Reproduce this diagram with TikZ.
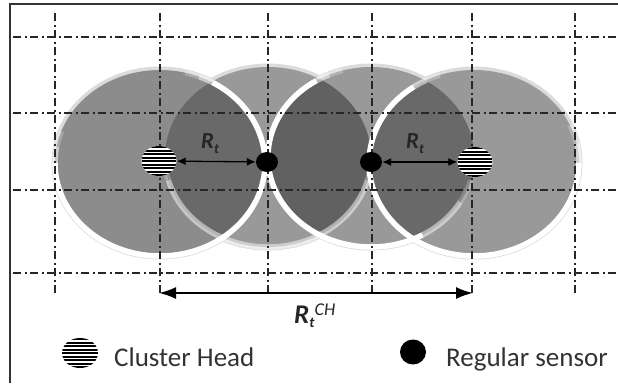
\documentclass[tikz,border=0pt]{standalone}
\usepackage{fontspec}
\setmainfont{Carlito}
\usetikzlibrary{shapes.geometric,arrows.meta}
\definecolor{baseA}{gray}{0.55}
\definecolor{baseB}{gray}{0.60}
\definecolor{lensC}{gray}{0.41}
\definecolor{lensM}{gray}{0.38}
\definecolor{gridc}{gray}{0.15}
\definecolor{halo}{gray}{0.86}
\definecolor{txt}{gray}{0.2}
\newcommand\myringarc[6]{\draw[ringw, opacity=#6] ([shift={(#4:#2pt and #3pt)}]#1) arc[start angle=#4, end angle=#5, x radius=#2pt, y radius=#3pt];}
\begin{document}
\begin{tikzpicture}[x=1pt,y=-1pt,
  gridline/.style={draw=gridc, line width=1.3pt, dash pattern=on 8pt off 3.5pt on 2pt off 3.5pt},
  chnode/.style={ellipse, minimum width=35pt, minimum height=30pt, inner sep=0pt, fill=white,
    path picture={\foreach \k in {-4,...,4}{\fill[black] ([yshift=\k*3.5pt-1pt]path picture bounding box.west) rectangle ([yshift=\k*3.5pt+1pt]path picture bounding box.east);}}},
  sensor/.style={ellipse, fill=black, minimum width=22pt, minimum height=20pt, inner sep=0pt},
  ringw/.style={draw=white, line width=5.5pt},
  haloline/.style={draw=halo, line width=7pt},
  smallarr/.style={{Latex[length=9pt,width=8pt]}-{Latex[length=9pt,width=8pt]}, line width=1.3pt},
  bigarr/.style={{Latex[length=17pt,width=12pt]}-{Latex[length=17pt,width=12pt]}, line width=2pt},
  lab/.style={anchor=base west, inner sep=0pt, text=black!85},
  legtext/.style={anchor=base west, inner sep=0pt, text=txt, font=\fontsize{27}{30}\selectfont}
]
\useasboundingbox (0,0) rectangle (618,383);
\fill[white] (0,0) rectangle (618,383);

% circle centres
\coordinate (c1) at (160,163);
\coordinate (c2) at (268,157);
\coordinate (c3) at (371,157);
\coordinate (c4) at (474,163);

% halos
\path[haloline] (c2) ellipse[x radius=103pt, y radius=90pt];
\path[haloline] (c3) ellipse[x radius=103pt, y radius=90pt];
\path[haloline] (c1) ellipse[x radius=105pt, y radius=93pt];
\path[haloline] (c4) ellipse[x radius=105pt, y radius=93pt];

% base fills
\fill[baseB] (c2) ellipse[x radius=103pt, y radius=90pt];
\fill[baseB] (c3) ellipse[x radius=103pt, y radius=90pt];
\fill[baseA] (c1) ellipse[x radius=105pt, y radius=93pt];
\fill[baseB] (c4) ellipse[x radius=105pt, y radius=93pt];

% lenses
\begin{scope}
  \clip (c1) ellipse[x radius=105pt, y radius=93pt];
  \fill[lensC] (c2) ellipse[x radius=103pt, y radius=90pt];
\end{scope}
\begin{scope}
  \clip (c2) ellipse[x radius=103pt, y radius=90pt];
  \fill[lensM] (c3) ellipse[x radius=103pt, y radius=90pt];
\end{scope}
\begin{scope}
  \clip (c4) ellipse[x radius=105pt, y radius=93pt];
  \fill[lensC] (c3) ellipse[x radius=103pt, y radius=90pt];
\end{scope}

% rings (circle 2, faint)
\myringarc{c2}{103}{90}{195}{345}{0.5}
\myringarc{c2}{103}{90}{183}{195}{0.25}
\myringarc{c2}{103}{90}{345}{357}{0.25}
% circle 3
\myringarc{c3}{103}{90}{122}{300}{1}
\myringarc{c3}{103}{90}{114}{122}{0.55}
\myringarc{c3}{103}{90}{106}{114}{0.25}
\myringarc{c3}{103}{90}{300}{330}{0.5}
\myringarc{c3}{103}{90}{330}{345}{0.2}
% circle 1
\myringarc{c1}{105}{93}{180}{420}{1}
\myringarc{c1}{105}{93}{170}{180}{0.55}
\myringarc{c1}{105}{93}{160}{170}{0.25}
\myringarc{c1}{105}{93}{420}{428}{0.55}
\myringarc{c1}{105}{93}{428}{436}{0.25}
% circle 4
\myringarc{c4}{105}{93}{125}{360}{1}
\myringarc{c4}{105}{93}{117}{125}{0.55}
\myringarc{c4}{105}{93}{109}{117}{0.25}
\myringarc{c4}{105}{93}{360}{372}{0.55}
\myringarc{c4}{105}{93}{372}{384}{0.25}

% grid
\foreach \gy in {37,113,190,273}{
  \draw[gridline] (13,\gy) -- (618,\gy);
}
\foreach \gx/\ge in {55/295,160/295,268/293,372/293,472/295,575/295}{
  \draw[gridline] (\gx,13) -- (\gx,\ge);
}

% frame
\coordinate (f1) at (10,383);
\coordinate (f2) at (10,4);
\coordinate (f3) at (618,4);
\draw[line width=1.5pt, black!80] (f1) -- (f2) -- (f3);

% nodes
\node[chnode] (ch1) at (159,161) {};
\node[chnode] (ch2) at (475,162) {};
\node[sensor] (s1) at (267,162) {};
\node[sensor] (s2) at (371,162) {};

% arrows
\draw[smallarr] (ch1) -- (s1);
\draw[smallarr] (s2) -- (ch2);
\coordinate (a1) at (159,293);
\coordinate (a2) at (473,293);
\draw[bigarr] (a1) -- (a2);

% labels
\node[lab] (rt1) at (201,148) {\fontsize{23}{26}\selectfont\textbf{\textit{R}}\raisebox{-5pt}{\fontsize{14}{14}\selectfont\textbf{\textit{t}}}};
\node[lab] (rt2) at (406,148) {\fontsize{23}{26}\selectfont\textbf{\textit{R}}\raisebox{-5pt}{\fontsize{14}{14}\selectfont\textbf{\textit{t}}}};
\node[lab] (rch) at (294,323) {\fontsize{27}{30}\selectfont\textbf{\textit{R}}\raisebox{-4pt}{\fontsize{15}{15}\selectfont\textbf{\textit{t}}}\raisebox{8pt}{\fontsize{18}{18}\selectfont\textit{CH}}};

% legend
\node[chnode, minimum width=36pt, minimum height=30pt] (legch) at (80,353) {};
\node[legtext] (legcht) at (114,366) {Cluster Head};
\node[sensor, minimum width=26pt, minimum height=25pt] (legs) at (413,352) {};
\node[legtext] (legst) at (446,366) {Regular sensor};
\end{tikzpicture}
\end{document}
